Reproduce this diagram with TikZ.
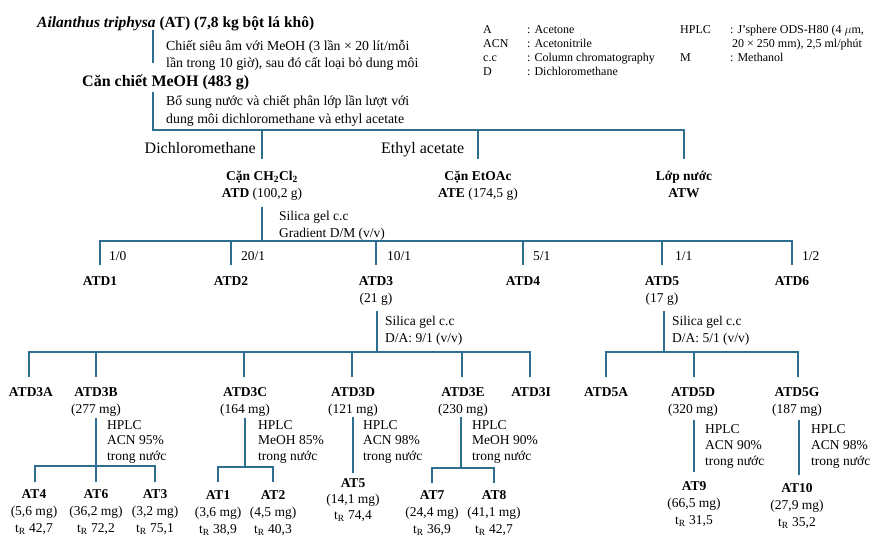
\documentclass[tikz,border=0pt]{standalone}
\usepackage{fontspec}
\setmainfont{Liberation Serif}
\definecolor{linec}{RGB}{46,110,142}
\tikzset{
  br/.style={draw=linec, line width=1.8pt, line join=miter},
  txt/.style={inner sep=0pt, anchor=base, font=\fontsize{13.5}{16}\selectfont},
  txtL/.style={txt, anchor=base west},
  para/.style={txtL, font=\fontsize{13.8}{16}\selectfont},
  bt/.style={txt, font=\fontsize{13.5}{16}\selectfont\bfseries},
  big/.style={inner sep=0pt, anchor=base west, font=\fontsize{16}{19}\selectfont},
  bigb/.style={big, font=\fontsize{16}{19}\selectfont\bfseries},
  leg/.style={inner sep=0pt, anchor=base west, font=\fontsize{12}{14}\selectfont},
}
\begin{document}
\begin{tikzpicture}[x=1pt,y=-1pt]
\useasboundingbox (0,0) rectangle (871,536);

% ---------- legend ----------
\node[leg] (lgA) at (483,33) {A};
\node[leg] (lgAd) at (527,33) {: Acetone};
\node[leg] (lgB) at (483,47) {ACN};
\node[leg] (lgBd) at (527,47) {: Acetonitrile};
\node[leg] (lgC) at (483,61) {c.c};
\node[leg] (lgCd) at (527,61) {: Column chromatography};
\node[leg] (lgD) at (483,75) {D};
\node[leg] (lgDd) at (527,75) {: Dichloromethane};
\node[leg] (lgH) at (680,33) {HPLC};
\node[leg] (lgHd) at (730,33) {: J'sphere ODS-H80 (4 $\mu$m,};
\node[leg] (lgHe) at (732,47) {20 × 250 mm), 2,5 ml/phút};
\node[leg] (lgM) at (680,61) {M};
\node[leg] (lgMd) at (730,61) {: Methanol};

% ---------- top part ----------
\node[bigb, font=\fontsize{15.5}{19}\selectfont\bfseries] (title) at (37,27) {\textit{Ailanthus triphysa} (AT) (7,8 kg bột lá khô)};
\node[para] (s1a) at (166,50) {Chiết siêu âm với MeOH (3 lần × 20 lít/mỗi};
\node[para] (s1b) at (166,67) {lần trong 10 giờ), sau đó cất loại bỏ dung môi};
\node[bigb] (meoh) at (82,86) {Căn chiết MeOH (483 g)};
\node[para] (s2a) at (166,105) {Bổ sung nước và chiết phân lớp lần lượt với};
\node[para] (s2b) at (166,123) {dung môi dichloromethane và ethyl acetate};

\coordinate (t0) at (153,30);
\coordinate (t1) at (153,63);
\draw[br] (t0) -- (t1);
\coordinate (c0) at (153,92);
\coordinate (c1) at (153,130);
\coordinate (c2) at (684,130);
\coordinate (c3) at (684,159);
\coordinate (cD) at (262,130);
\coordinate (cD1) at (262,159);
\coordinate (cE) at (478,130);
\coordinate (cE1) at (478,159);
\draw[br] (c0) -- (c1) -- (c2) -- (c3);
\draw[br] (cD) -- (cD1);
\draw[br] (cE) -- (cE1);

\node[big, anchor=base east] (dcm) at (256,153) {Dichloromethane};
\node[big] (ea) at (381,153) {Ethyl acetate};

\node[bt] (atdA) at (262,180) {Cặn CH\textsubscript{2}Cl\textsubscript{2}};
\node[txt] (atdB) at (262,197) {\textbf{ATD} (100,2 g)};
\node[bt] (ateA) at (478,180) {Cặn EtOAc};
\node[txt] (ateB) at (478,197) {\textbf{ATE} (174,5 g)};
\node[bt] (atwA) at (684,180) {Lớp nước};
\node[bt] (atwB) at (684,197) {ATW};

% ---------- row 2 ----------
\node[txtL] (sg1a) at (279,220) {Silica gel c.c};
\node[txtL] (sg1b) at (279,237) {Gradient D/M (v/v)};
\coordinate (d0) at (262,207);
\coordinate (d1) at (262,241);
\draw[br] (d0) -- (d1);
\coordinate (r2t1) at (100,241); \coordinate (r2b1) at (100,265);
\coordinate (r2t6) at (792,241); \coordinate (r2b6) at (792,265);
\draw[br] (r2b1) -- (r2t1) -- (r2t6) -- (r2b6);
\foreach \x/\n in {231/2,376/3,523/4,662/5}{
  \coordinate (r2t\n) at (\x,241);
  \coordinate (r2b\n) at (\x,265);
  \draw[br] (r2t\n) -- (r2b\n);
}
\node[txtL] (q1) at (109,260) {1/0};
\node[txtL] (q2) at (241,260) {20/1};
\node[txtL] (q3) at (387,260) {10/1};
\node[txtL] (q4) at (533,260) {5/1};
\node[txtL] (q5) at (675,260) {1/1};
\node[txtL] (q6) at (802,260) {1/2};

\node[bt] (atd1) at (100,285) {ATD1};
\node[bt] (atd2) at (231,285) {ATD2};
\node[bt] (atd3) at (376,285) {ATD3};
\node[txt] (atd3m) at (376,302) {(21 g)};
\node[bt] (atd4) at (523,285) {ATD4};
\node[bt] (atd5) at (662,285) {ATD5};
\node[txt] (atd5m) at (662,302) {(17 g)};
\node[bt] (atd6) at (792,285) {ATD6};

% ---------- row 3 (ATD3) ----------
\node[txtL] (sg2a) at (385,325) {Silica gel c.c};
\node[txtL] (sg2b) at (385,342) {D/A: 9/1 (v/v)};
\coordinate (e0) at (377,311);
\coordinate (e1) at (377,352);
\draw[br] (e0) -- (e1);
\coordinate (r3t1) at (29,352); \coordinate (r3b1) at (29,377);
\coordinate (r3t6) at (530,352); \coordinate (r3b6) at (530,377);
\draw[br] (r3b1) -- (r3t1) -- (r3t6) -- (r3b6);
\foreach \x/\n in {96/2,244/3,352/4,462/5}{
  \coordinate (r3t\n) at (\x,352);
  \coordinate (r3b\n) at (\x,377);
  \draw[br] (r3t\n) -- (r3b\n);
}
\node[bt] (a3a) at (31,396) {ATD3A};
\node[bt] (a3b) at (96,396) {ATD3B};
\node[txt] (a3bm) at (96,413) {(277 mg)};
\node[bt] (a3c) at (245,396) {ATD3C};
\node[txt] (a3cm) at (245,413) {(164 mg)};
\node[bt] (a3d) at (353,396) {ATD3D};
\node[txt] (a3dm) at (353,413) {(121 mg)};
\node[bt] (a3e) at (463,396) {ATD3E};
\node[txt] (a3em) at (463,413) {(230 mg)};
\node[bt] (a3i) at (531,396) {ATD3I};

% ---------- row 3 (ATD5) ----------
\node[txtL] (sg3a) at (672,325) {Silica gel c.c};
\node[txtL] (sg3b) at (672,342) {D/A: 5/1 (v/v)};
\coordinate (f0) at (664,311);
\coordinate (f1) at (664,352);
\draw[br] (f0) -- (f1);
\coordinate (r5t1) at (606,352); \coordinate (r5b1) at (606,377);
\coordinate (r5t3) at (798,352); \coordinate (r5b3) at (798,377);
\coordinate (r5t2) at (694,352); \coordinate (r5b2) at (694,377);
\draw[br] (r5b1) -- (r5t1) -- (r5t3) -- (r5b3);
\draw[br] (r5t2) -- (r5b2);
\node[bt] (a5a) at (606,396) {ATD5A};
\node[bt] (a5d) at (693,396) {ATD5D};
\node[txt] (a5dm) at (693,413) {(320 mg)};
\node[bt] (a5g) at (797,396) {ATD5G};
\node[txt] (a5gm) at (797,413) {(187 mg)};

% ---------- HPLC ATD3B ----------
\node[txtL] (h1a) at (107,429) {HPLC};
\node[txtL] (h1b) at (107,444) {ACN 95\%};
\node[txtL] (h1c) at (107,460) {trong nước};
\coordinate (g0) at (96,418); \coordinate (g1) at (96,466); \coordinate (g2) at (96,482);
\coordinate (gl) at (35,466); \coordinate (gl1) at (35,482);
\coordinate (gr) at (155,466); \coordinate (gr1) at (155,482);
\draw[br] (g0) -- (g2);
\draw[br] (gl1) -- (gl) -- (gr) -- (gr1);
\node[bt] (at4) at (34,498) {AT4};
\node[txt] (at4m) at (34,515) {(5,6 mg)};
\node[txt] (at4t) at (34,532) {t\textsubscript{R} 42,7};
\node[bt] (at6) at (96,498) {AT6};
\node[txt] (at6m) at (96,515) {(36,2 mg)};
\node[txt] (at6t) at (96,532) {t\textsubscript{R} 72,2};
\node[bt] (at3) at (155,498) {AT3};
\node[txt] (at3m) at (155,515) {(3,2 mg)};
\node[txt] (at3t) at (155,532) {t\textsubscript{R} 75,1};

% ---------- HPLC ATD3C ----------
\node[txtL] (h2a) at (258,429) {HPLC};
\node[txtL] (h2b) at (258,444) {MeOH 85\%};
\node[txtL] (h2c) at (258,460) {trong nước};
\coordinate (k0) at (245,418); \coordinate (k1) at (245,467);
\coordinate (kl) at (218,467); \coordinate (kl1) at (218,482);
\coordinate (kr) at (273,467); \coordinate (kr1) at (273,482);
\draw[br] (k0) -- (k1);
\draw[br] (kl1) -- (kl) -- (kr) -- (kr1);
\node[bt] (at1) at (218,499) {AT1};
\node[txt] (at1m) at (218,516) {(3,6 mg)};
\node[txt] (at1t) at (218,533) {t\textsubscript{R} 38,9};
\node[bt] (at2) at (273,499) {AT2};
\node[txt] (at2m) at (273,516) {(4,5 mg)};
\node[txt] (at2t) at (273,533) {t\textsubscript{R} 40,3};

% ---------- HPLC ATD3D ----------
\node[txtL] (h3a) at (363,429) {HPLC};
\node[txtL] (h3b) at (363,444) {ACN 98\%};
\node[txtL] (h3c) at (363,460) {trong nước};
\coordinate (m0) at (353,417); \coordinate (m1) at (353,473);
\draw[br] (m0) -- (m1);
\node[bt] (at5) at (353,487) {AT5};
\node[txt] (at5m) at (353,503) {(14,1 mg)};
\node[txt] (at5t) at (353,519) {t\textsubscript{R} 74,4};

% ---------- HPLC ATD3E ----------
\node[txtL] (h4a) at (472,429) {HPLC};
\node[txtL] (h4b) at (472,444) {MeOH 90\%};
\node[txtL] (h4c) at (472,460) {trong nước};
\coordinate (n0) at (461,417); \coordinate (n1) at (461,468);
\coordinate (nl) at (432,468); \coordinate (nl1) at (432,483);
\coordinate (nr) at (494,468); \coordinate (nr1) at (494,483);
\draw[br] (n0) -- (n1);
\draw[br] (nl1) -- (nl) -- (nr) -- (nr1);
\node[bt] (at7) at (432,499) {AT7};
\node[txt] (at7m) at (432,516) {(24,4 mg)};
\node[txt] (at7t) at (432,533) {t\textsubscript{R} 36,9};
\node[bt] (at8) at (494,499) {AT8};
\node[txt] (at8m) at (494,516) {(41,1 mg)};
\node[txt] (at8t) at (494,533) {t\textsubscript{R} 42,7};

% ---------- HPLC ATD5D ----------
\node[txtL] (h5a) at (705,433) {HPLC};
\node[txtL] (h5b) at (705,449) {ACN 90\%};
\node[txtL] (h5c) at (705,465) {trong nước};
\coordinate (p0) at (694,420); \coordinate (p1) at (694,472);
\draw[br] (p0) -- (p1);
\node[bt] (at9) at (694,490) {AT9};
\node[txt] (at9m) at (694,507) {(66,5 mg)};
\node[txt] (at9t) at (694,524) {t\textsubscript{R} 31,5};

% ---------- HPLC ATD5G ----------
\node[txtL] (h6a) at (811,433) {HPLC};
\node[txtL] (h6b) at (811,449) {ACN 98\%};
\node[txtL] (h6c) at (811,465) {trong nước};
\coordinate (u0) at (799,420); \coordinate (u1) at (799,475);
\draw[br] (u0) -- (u1);
\node[bt] (at10) at (797,492) {AT10};
\node[txt] (at10m) at (797,509) {(27,9 mg)};
\node[txt] (at10t) at (797,526) {t\textsubscript{R} 35,2};
\end{tikzpicture}
\end{document}
